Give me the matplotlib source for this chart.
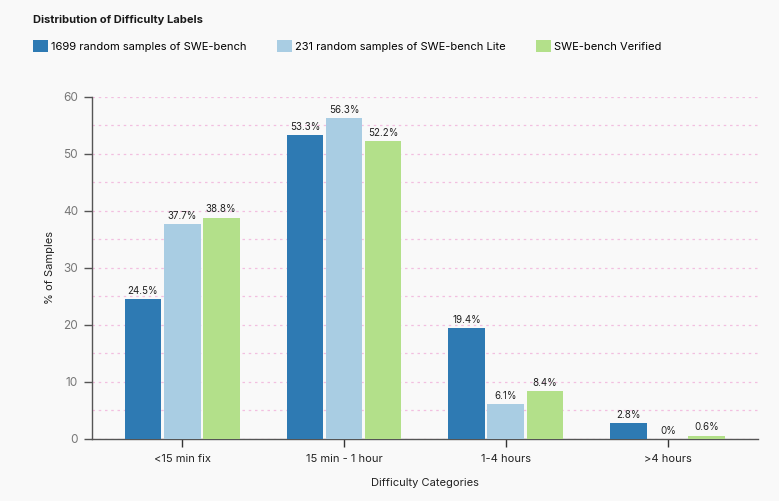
import numpy as np
import matplotlib
matplotlib.use("Agg")
import matplotlib.pyplot as plt
from matplotlib.ticker import MultipleLocator

categories = ["<15 min fix", "15 min - 1 hour", "1-4 hours", ">4 hours"]
series_names = ["1699 random samples of SWE-bench",
                "231 random samples of SWE-bench Lite",
                "SWE-bench Verified"]
swe_full = [24.5, 53.3, 19.4, 2.8]
swe_lite = [37.7, 56.3, 6.1, 0.0]
swe_verified = [38.8, 52.2, 8.4, 0.6]
colors = ["#2e7ab3", "#a9cde3", "#b3e08a"]

plt.rcParams['font.family'] = ['Inter', 'DejaVu Sans']
bg = "#f9f9f9"

fig = plt.figure(figsize=(7.79, 5.01), dpi=100, facecolor=bg)
ax = fig.add_axes([0.1181, 0.1238, 0.973 - 0.1181, 0.8064 - 0.1238], facecolor=bg)

x = np.arange(len(categories))
w = 0.228
step = 0.241
bars = []
for i, vals in enumerate([swe_full, swe_lite, swe_verified]):
    b = ax.bar(x + (i - 1) * step, vals, width=w, color=colors[i],
               label=series_names[i], zorder=3)
    bars.append(b)
    for rect, v in zip(b, vals):
        lbl = "0%" if v == 0 else "%.1f%%" % v
        ax.annotate(lbl, (rect.get_x() + rect.get_width() / 2, v),
                    xytext=(0, 2.5), textcoords="offset points",
                    ha="center", va="bottom", fontsize=7, color="#222222")

ax.set_xlim(-0.556, 3.556)
ax.set_ylim(0, 60)
ax.yaxis.set_major_locator(MultipleLocator(10))
ax.yaxis.set_minor_locator(MultipleLocator(5))
ax.grid(axis="y", which="both", color="#f2bfe0", linestyle=(0, (2, 3)), linewidth=0.9, zorder=0)
ax.tick_params(axis="y", which="minor", length=0)
ax.tick_params(axis="y", which="major", length=6, width=1, color="#555555",
               labelsize=8.5, labelcolor="#777777", pad=4)
ax.tick_params(axis="x", length=6, width=1, color="#333333", labelsize=8,
               labelcolor="#222222", pad=5)
ax.set_xticks(x)
ax.set_xticklabels(categories)
for s in ["top", "right"]:
    ax.spines[s].set_visible(False)
for s in ["left", "bottom"]:
    ax.spines[s].set_color("#555555")
    ax.spines[s].set_linewidth(1)

ax.set_xlabel("Difficulty Categories", fontsize=8, color="#222222", labelpad=10)
ax.set_ylabel("% of Samples", fontsize=8, color="#222222", labelpad=6)

fig.text(33 / 779, 1 - 20 / 501, "Distribution of Difficulty Labels",
         fontsize=8, fontweight="bold", color="#1a1a1a", va="center", ha="left")

fig.legend(handles=bars, loc="upper left", bbox_to_anchor=(33 / 779, 1 - 40 / 501),
           ncol=3, frameon=False, fontsize=8, handlelength=1.35, handleheight=1.35,
           handletextpad=0.3, columnspacing=2.7, borderaxespad=0, borderpad=0)

fig.savefig("out.png", dpi=100, facecolor=bg)
